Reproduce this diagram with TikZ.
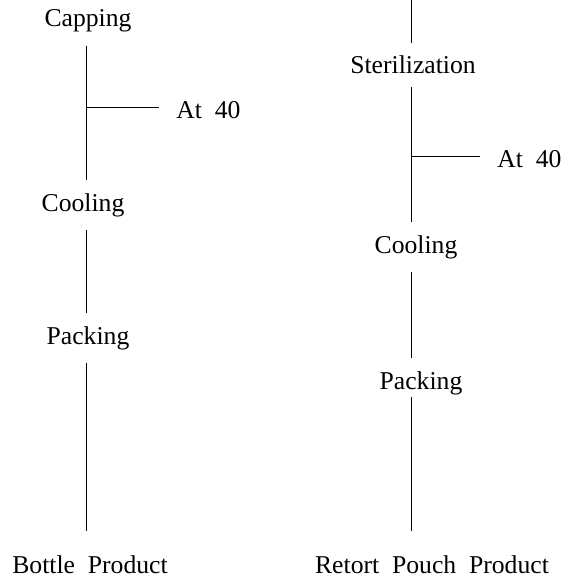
\documentclass[tikz,border=0pt]{standalone}
\usepackage{fontspec}
\setmainfont{Liberation Serif}[WordSpace=2]
\usetikzlibrary{positioning}

\begin{document}
\begin{tikzpicture}[
    x=0.2mm, y=-0.2mm,
    stage/.style={inner sep=0pt, font=\fontsize{14.6}{16}\selectfont},
    note/.style={stage, anchor=west},
    link/.style={line width=0.5pt, shorten <=2.6mm, shorten >=2.6mm},
  ]
  \useasboundingbox (0,0) rectangle (565,582);

  % process columns
  \coordinate (colA) at (86,0);
  \coordinate (colB) at (411,0);

  % Bottle line
  \node[stage] (capA) at (88,21) {Capping};
  \node[stage] (coolA) at (83,205) {Cooling};
  \node[stage] (packA) at (88,338) {Packing};
  \node[stage] (prodA) at (90,565) {Bottle Product};
  \node[note] (holdA) at (176,110) {At 40};

  % Retort pouch line
  \node[stage] (steriB) at (413,65) {Sterilization};
  \node[stage] (coolB) at (416,247) {Cooling};
  \node[stage] (packB) at (421,383) {Packing};
  \node[stage] (prodB) at (432,565) {Retort Pouch Product};
  \node[note] (holdB) at (497,159) {At 40};

  \coordinate (tapA) at (86,107);
  \coordinate (tapB) at (411,156);

  % Connectors
  \draw[link] (capA.south -| colA) -- (coolA.north -| colA);
  \draw[link] (coolA.south -| colA) -- (packA.north -| colA);
  \draw[link, shorten >=5mm] (packA.south -| colA) -- (prodA.north -| colA);
  \draw[link, shorten <=0pt, shorten >=3.4mm] (tapA) -- (holdA.west |- tapA);

  \draw[link, shorten <=0pt] (colB) -- (steriB.north -| colB);
  \draw[link] (steriB.south -| colB) -- (coolB.north -| colB);
  \draw[link] (coolB.south -| colB) -- (packB.north -| colB);
  \draw[link, shorten <=0.4mm, shorten >=5mm] (packB.south -| colB) -- (prodB.north -| colB);
  \draw[link, shorten <=0pt, shorten >=3.4mm] (tapB) -- (holdB.west |- tapB);
\end{tikzpicture}
\end{document}
